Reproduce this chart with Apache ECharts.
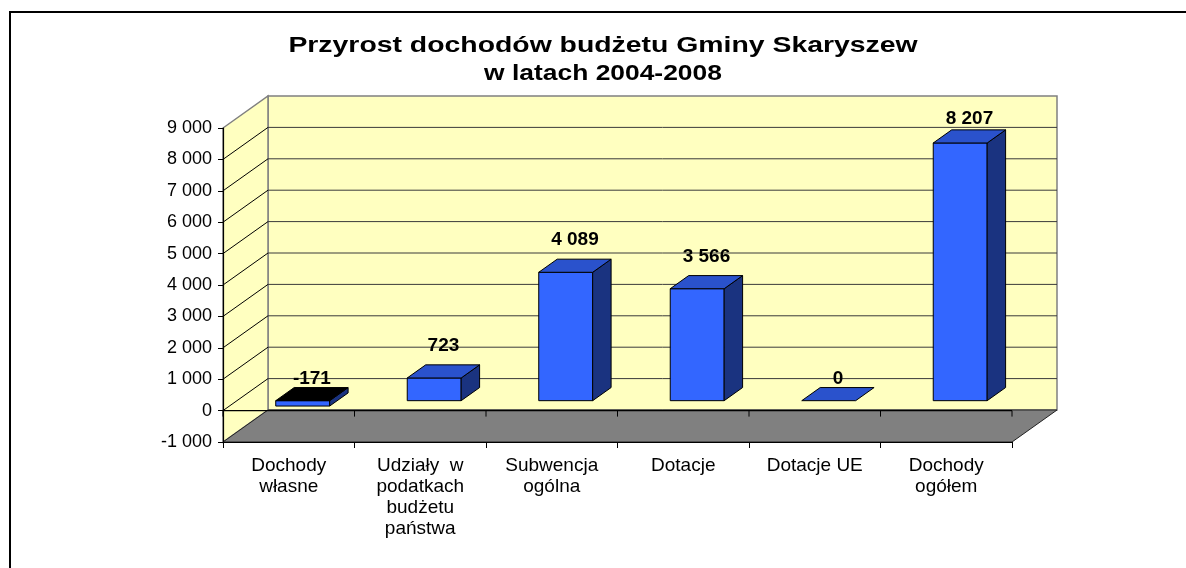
<!DOCTYPE html>
<html><head><meta charset="utf-8">
<script src="https://cdn.jsdelivr.net/npm/echarts@6/dist/echarts.min.js"></script>
<style>html,body{margin:0;padding:0;background:#fff}#c{width:1186px;height:568px}</style>
</head><body><div id="c"></div>
<script>
// ---- data ----
const categories = ['Dochody\nwłasne', 'Udziały  w\npodatkach\nbudżetu\npaństwa', 'Subwencja\nogólna', 'Dotacje', 'Dotacje UE', 'Dochody\nogółem'];
const values = [-171, 723, 4089, 3566, 0, 8207];
const yTicks = [-1000, 0, 1000, 2000, 3000, 4000, 5000, 6000, 7000, 8000, 9000];
const titleLines = ['Przyrost dochodów budżetu Gminy Skaryszew', 'w latach 2004-2008'];
const yMin = -1000, yMax = 9000, yStep = 1000;

// ---- style ----
const FONT = '"Liberation Sans", Arial, sans-serif';
const DEPTH = [45, -32];
const F1 = 0.31, F2 = 0.72, BAR_W = 0.41;
const C_FRONT = '#3366FF', C_TOP = '#2A52CC', C_SIDE = '#1A3380', C_WALL = '#FFFFC0', C_FLOOR = '#808080';

function fmt(v) {
  const s = Math.abs(v).toString().replace(/\B(?=(\d{3})+(?!\d))/g, ' ');
  return (v < 0 ? '-' : '') + s;
}

function renderWalls(params, api) {
  const cs = params.coordSys;
  const x0 = cs.x, x1 = cs.x + cs.width, yT = cs.y, yB = cs.y + cs.height;
  const dx = DEPTH[0], dy = DEPTH[1];
  const ch = [];
  ch.push({ type: 'polygon', shape: { points: [[x0 + dx, yT + dy], [x1 + dx, yT + dy], [x1 + dx, yB + dy], [x0 + dx, yB + dy]] },
    style: { fill: C_WALL, stroke: '#808080', lineWidth: 1.5 } });
  ch.push({ type: 'polygon', shape: { points: [[x0, yT], [x0 + dx, yT + dy], [x0 + dx, yB + dy], [x0, yB]] },
    style: { fill: C_WALL, stroke: '#808080', lineWidth: 1.5 } });
  yTicks.forEach(function (v) {
    if (v <= yMin || v >= yMax) return;
    const y = api.coord([0, v])[1];
    ch.push({ type: 'line', shape: { x1: x0 + dx, y1: y + dy, x2: x1 + dx, y2: y + dy }, style: { stroke: '#3a3a3a', lineWidth: 1 } });
    ch.push({ type: 'line', shape: { x1: x0, y1: y, x2: x0 + dx, y2: y + dy }, style: { stroke: '#000', lineWidth: 1 } });
  });
  ch.push({ type: 'polygon', shape: { points: [[x0 + dx, yB + dy], [x1 + dx, yB + dy], [x1, yB], [x0, yB]] },
    style: { fill: C_FLOOR, stroke: '#222', lineWidth: 1 } });
  // category axis line at value 0 on front plane
  const y0 = api.coord([0, 0])[1];
  ch.push({ type: 'line', shape: { x1: x0, y1: y0, x2: x1, y2: y0 }, style: { stroke: '#000', lineWidth: 1.2 } });
  const cw = api.size([1, 0])[0];
  for (let i = 0; i <= categories.length; i++) {
    const bx = api.coord([0, 0])[0] - cw / 2 + i * cw;
    ch.push({ type: 'line', shape: { x1: bx, y1: y0, x2: bx, y2: y0 + 6 }, style: { stroke: '#000', lineWidth: 1 } });
  }
  return { type: 'group', children: ch };
}

function renderBar(params, api) {
  const cs = params.coordSys;
  const i = api.value(0), v = api.value(1);
  const c0 = api.coord([i, 0]), c1 = api.coord([i, v]);
  const bw = api.size([1, 0])[0] * BAR_W;
  const dx = DEPTH[0], dy = DEPTH[1];
  const fx = dx * F1, fy = dy * F1, ddx = dx * (F2 - F1), ddy = dy * (F2 - F1);
  const xl = c0[0] - bw / 2 + fx, xr = c0[0] + bw / 2 + fx;
  const yz = c0[1] + fy, yv = c1[1] + fy;
  const yTop = Math.min(yz, yv), yBot = Math.max(yz, yv);
  const ch = [];
  const st = { stroke: '#000', lineWidth: 1, lineJoin: 'round' };
  if (v !== 0) {
    ch.push({ type: 'rect', shape: { x: xl, y: yTop, width: xr - xl, height: yBot - yTop }, style: Object.assign({ fill: C_FRONT }, st) });
    ch.push({ type: 'polygon', shape: { points: [[xr, yTop], [xr + ddx, yTop + ddy], [xr + ddx, yBot + ddy], [xr, yBot]] }, style: Object.assign({ fill: C_SIDE }, st) });
  }
  ch.push({ type: 'polygon', shape: { points: [[xl, yTop], [xr, yTop], [xr + ddx, yTop + ddy], [xl + ddx, yTop + ddy]] },
    style: Object.assign({ fill: v < 0 ? '#000' : C_TOP }, st) });
  const gap = v > 0 ? 19 : 9;
  const ly = Math.max(yTop + ddy - gap, cs.y - 9);
  ch.push({ type: 'text', x: (xl + xr) / 2 + ddx / 2, y: ly,
    style: { text: fmt(v), fontFamily: FONT, fontWeight: 'bold', fontSize: 19, fill: '#000', align: 'center', verticalAlign: 'middle' } });
  return { type: 'group', children: ch };
}

const chart = echarts.init(document.getElementById('c'), null, { renderer: 'canvas' });
chart.setOption({
  animation: false,
  backgroundColor: '#fff',
  grid: { left: 223, top: 128, width: 789, height: 314 },
  xAxis: {
    type: 'category', data: categories, z: 10,
    axisLine: { onZero: false, lineStyle: { color: '#000', width: 1.2 } },
    axisTick: { show: true, length: 6, interval: 0, lineStyle: { color: '#000' } },
    axisLabel: { interval: 0, color: '#000', fontSize: 19, lineHeight: 21, margin: 13, fontFamily: FONT },
    splitLine: { show: false }
  },
  yAxis: {
    type: 'value', min: yMin, max: yMax, interval: yStep, z: 10,
    axisLine: { show: true, lineStyle: { color: '#000', width: 1.2 } },
    axisTick: { show: true, length: 5, lineStyle: { color: '#000' } },
    axisLabel: { formatter: fmt, color: '#000', fontSize: 18, margin: 11, fontFamily: FONT },
    splitLine: { show: false }
  },
  graphic: [
    { type: 'rect', z: 100, shape: { x: 10, y: 12, width: 1400, height: 800 }, style: { fill: 'none', stroke: '#000', lineWidth: 2 } },
    { type: 'text', z: 100, x: 603, y: 46, scaleX: 1.29, style: { text: titleLines[0], fontFamily: FONT, fontWeight: 'bold', fontSize: 22, fill: '#000', align: 'center', verticalAlign: 'middle' } },
    { type: 'text', z: 100, x: 603, y: 74, scaleX: 1.2, style: { text: titleLines[1], fontFamily: FONT, fontWeight: 'bold', fontSize: 22, fill: '#000', align: 'center', verticalAlign: 'middle' } }
  ],
  series: [
    { type: 'custom', z: 1, silent: true, renderItem: renderWalls, data: [[0, 0]] },
    { type: 'custom', z: 3, renderItem: renderBar, data: values.map(function (v, i) { return [i, v]; }) }
  ]
});
</script></body></html>
